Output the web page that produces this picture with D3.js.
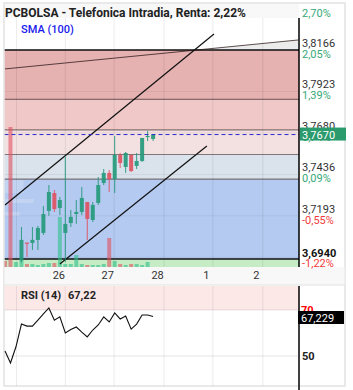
<!DOCTYPE html>
<html>
<head>
<meta charset="utf-8">
<script src="https://cdn.jsdelivr.net/npm/d3@7"></script>
<style>
  body { margin: 0; background: #fff; }
  svg { font-family: Roboto, "Noto Sans", sans-serif; display: block; }
</style>
</head>
<body>
<div id="chart"></div>
<script>
// candles, by bar index (first 3 bars fall below the visible range)
var openP  = [null, null, null, 3.6930, 3.7036, 3.7034, 3.7052, 3.7093, 3.7222, 3.7327, 3.7239, 3.7093, 3.7151, 3.7204,
              3.7216, 3.7274, 3.7169, 3.7269, 3.7386, 3.7445, 3.7409, 3.7550, 3.7480, 3.7550, 3.7486, 3.7515, 3.7656, 3.7644];
var highP  = [null, null, null, 3.7128, 3.7036, 3.7128, 3.7134, 3.7251, 3.7374, 3.7345, 3.7304, 3.7538, 3.7228, 3.7286,
              3.7362, 3.7274, 3.7274, 3.7421, 3.7468, 3.7462, 3.7662, 3.7562, 3.7568, 3.7550, 3.7562, 3.7650, 3.7691, 3.7670];
var lowP   = [null, null, null, 3.6920, 3.6952, 3.6993, 3.6993, 3.7081, 3.7193, 3.7216, 3.7198, 3.6923, 3.7128, 3.7146,
              3.7198, 3.7052, 3.7157, 3.7257, 3.7374, 3.7333, 3.7327, 3.7474, 3.7445, 3.7450, 3.7468, 3.7509, 3.7632, 3.7632];
var closeP = [null, null, null, 3.7052, 3.7030, 3.7052, 3.7122, 3.7204, 3.7333, 3.7233, 3.7286, 3.7146, 3.7187, 3.7216,
              3.7298, 3.7175, 3.7257, 3.7374, 3.7445, 3.7409, 3.7550, 3.7503, 3.7562, 3.7456, 3.7515, 3.7650, 3.7662, 3.7670];
var volume = [60, 1400, 50, 60, 30, 30, 20, 30, 40, 40, 500, 30, 30, 120, 30, 20, 20, 20, 30, 290, 60, 30, 20, 30, 30, 20, 50, 0];
var volUp  = [false, false, true];   // direction of the bars without a visible candle
var rsi    = [52.2, 47, 54, 63.9, 63, 63, 65.6, 68.3, 70.9, 65.6, 67, 60, 61.5, 62.6, 60.4, 58.3, 61.3, 63.5, 67, 64.8,
              68.7, 66.1, 67.4, 61.7, 63.9, 67.8, 67.8, 67.2];

// fibonacci range and levels
var fibHigh = 3.8166, fibLow = 3.6940;
var fibLevels = [0, 0.236, 0.382, 0.5, 0.618, 1];
var fibColors = ["#e5b1b1", "#f0c8c8", "#f3e0e0", "#dae2ec", "#b4caf0"];

// axis ticks
var priceTicks  = [3.8409, 3.8166, 3.7923, 3.7680, 3.7436, 3.7193, 3.6950];
var priceLabels = ["", "3,8166", "3,7923", "3,7680", "3,7436", "3,7193", ""];
var pctLabels   = ["2,70%", "2,05%", "1,39%", "0,74%", "0,09%", "-0,55%", "-1,22%"];
var gridIdx   = [2.1, 11, 19.9, 29, 37.9, 47];
var dayLabels = ["", "26", "27", "28", "1", "2"];

// volume by price (left side)
var vpLow  = [3.7327, 3.7269, 3.7193];
var vpHigh = [3.7403, 3.7292, 3.7216];
var vpVol  = [19, 29, 15];

// drawn lines [index, price, index, price]
var topLine  = [0, 3.8055, 53.5, 3.8225];
var chanUp   = [0, 3.7257, 38.1, 3.8260];
var chanLow  = [10, 3.6911, 36.8, 3.7603];
var lastPrice = 3.7670, rsiLast = "67,229", rsiTitle = "67,22";

var W = 353, H = 390;
var svg = d3.select("#chart").append("svg").attr("width", W).attr("height", H);

var pLeft = 4.5, pRight = 299, pTop = 18, pBottom = 267;
var x = d3.scaleLinear().domain([0, 53.6]).range([pLeft + 0.5, pRight]);
var y = d3.scaleLinear().domain([fibLow, fibHigh]).range([259, 50]);
var yv = d3.scaleLinear().domain([0, 1400]).range([pBottom, 127]);

var up = "#22997a", down = "#e0505f";

// outer frame
svg.append("rect").attr("x", 4).attr("y", 3).attr("width", 341).attr("height", 383)
  .attr("fill", "#fff").attr("stroke", "#e2e2e2").attr("stroke-width", 1.5);
// x axis strip
svg.append("rect").attr("x", 4.5).attr("y", pBottom).attr("width", 340).attr("height", 18).attr("fill", "#f8f8f8");

svg.append("defs").append("clipPath").attr("id", "clip")
  .append("rect").attr("x", pLeft).attr("y", pTop).attr("width", pRight - pLeft).attr("height", pBottom - pTop);

var plot = svg.append("g").attr("clip-path", "url(#clip)");

// grey wedge above the range under the thin line
var xCross = x(topLine[0]) + (y(fibHigh) - y(topLine[1])) / (y(topLine[3]) - y(topLine[1])) * (x(topLine[2]) - x(topLine[0]));
plot.append("path")
  .attr("d", "M" + xCross + "," + y(fibHigh) + "L" + x(topLine[2]) + "," + y(topLine[3]) + "L" + x(topLine[2]) + "," + y(fibHigh) + "Z")
  .attr("fill", "#ececec");

// fib bands
var fibPrices = fibLevels.map(function(l) { return fibHigh - l * (fibHigh - fibLow); });
plot.selectAll(".band").data(fibColors).join("rect")
  .attr("x", pLeft).attr("width", pRight - pLeft)
  .attr("y", function(d, i) { return y(fibPrices[i]); })
  .attr("height", function(d, i) { return y(fibPrices[i + 1]) - y(fibPrices[i]); })
  .attr("fill", function(d) { return d; });
plot.append("rect").attr("x", pLeft).attr("width", pRight - pLeft)
  .attr("y", y(fibLow)).attr("height", pBottom - y(fibLow)).attr("fill", "#c6ecc6");

// grid
plot.selectAll(".vg").data(gridIdx).join("line")
  .attr("x1", function(d) { return x(d); }).attr("x2", function(d) { return x(d); })
  .attr("y1", pTop).attr("y2", pBottom).attr("stroke", "rgba(0,0,0,0.08)");
plot.selectAll(".hg").data(priceTicks).join("line")
  .attr("x1", pLeft).attr("x2", pRight)
  .attr("y1", function(d) { return y(d); }).attr("y2", function(d) { return y(d); })
  .attr("stroke", "rgba(0,0,0,0.06)");

// fib lines
plot.selectAll(".fl").data(fibPrices).join("line")
  .attr("x1", pLeft).attr("x2", pRight)
  .attr("y1", function(d) { return y(d); }).attr("y2", function(d) { return y(d); })
  .attr("stroke", function(d, i) { return i == 0 || i == fibPrices.length - 1 ? "#111" : "rgba(60,40,40,0.6)"; })
  .attr("stroke-width", function(d, i) { return i == 0 || i == fibPrices.length - 1 ? 1.6 : 1.2; });

// volume by price
plot.selectAll(".vp").data(vpVol).join("rect")
  .attr("x", pLeft).attr("width", function(d) { return d; })
  .attr("y", function(d, i) { return y(vpHigh[i]); })
  .attr("height", function(d, i) { return y(vpLow[i]) - y(vpHigh[i]); })
  .attr("fill", "#fff").attr("opacity", 0.2);

// volume bars
function isUp(i) { return openP[i] == null ? volUp[i] : closeP[i] >= openP[i]; }
plot.selectAll(".vol").data(volume).join("rect")
  .attr("x", function(d, i) { return x(i) - 2; }).attr("width", 4)
  .attr("y", function(d) { return yv(d); })
  .attr("height", function(d) { return pBottom - yv(d); })
  .attr("fill", function(d, i) { return isUp(i) ? "#2fbf8a" : "#e0505f"; })
  .attr("opacity", 0.6);

// drawn lines
[topLine, chanUp, chanLow].forEach(function(l, k) {
  plot.append("line")
    .attr("x1", x(l[0])).attr("y1", y(l[1])).attr("x2", x(l[2])).attr("y2", y(l[3]))
    .attr("stroke", k == 0 ? "rgba(40,20,20,0.75)" : "#111").attr("stroke-width", k == 0 ? 1 : 1.2);
});

// candles
var idx = d3.range(openP.length).filter(function(i) { return openP[i] != null; });
var candle = plot.selectAll(".c").data(idx).join("g")
  .attr("fill", function(i) { return isUp(i) ? up : down; })
  .attr("stroke", function(i) { return isUp(i) ? up : down; })
  .attr("opacity", 0.9);
candle.append("line")
  .attr("x1", function(i) { return x(i); }).attr("x2", function(i) { return x(i); })
  .attr("y1", function(i) { return y(highP[i]); }).attr("y2", function(i) { return y(lowP[i]); });
candle.append("rect")
  .attr("stroke", "none")
  .attr("x", function(i) { return x(i) - 2; }).attr("width", 4)
  .attr("y", function(i) { return y(Math.max(openP[i], closeP[i])); })
  .attr("height", function(i) { return Math.max(1.2, Math.abs(y(openP[i]) - y(closeP[i]))); });

// last price dashed line
plot.append("line").attr("x1", pLeft).attr("x2", pRight)
  .attr("y1", y(lastPrice)).attr("y2", y(lastPrice))
  .attr("stroke", "#2a2ad0").attr("stroke-dasharray", "4,3");

// right axis
svg.append("line").attr("x1", pRight).attr("x2", pRight).attr("y1", pTop).attr("y2", pBottom)
  .attr("stroke", "#000").attr("stroke-width", 1.5);

var lab = svg.append("g").attr("font-size", 11);
lab.selectAll(".pl").data(priceTicks).join("text")
  .attr("x", 302).attr("y", function(d) { return y(d) - 3; })
  .attr("fill", "#333").text(function(d, i) { return priceLabels[i]; });
lab.selectAll(".pc").data(priceTicks).join("text")
  .attr("x", 302).attr("y", function(d, i) { return i == priceTicks.length - 1 ? pBottom : y(d) + 8; })
  .attr("fill", function(d, i) { return pctLabels[i].charAt(0) == "-" ? "#f23c3c" : "#36a877"; })
  .text(function(d, i) { return pctLabels[i]; });
lab.append("text").attr("x", 302).attr("y", y(fibLow) - 2)
  .attr("font-weight", "bold").attr("fill", "#111").text("3,6940");

// current price box
svg.append("rect").attr("x", 300).attr("y", y(lastPrice) - 7).attr("width", 46).attr("height", 13)
  .attr("fill", "#2b9a6c");
svg.append("text").attr("x", 302).attr("y", y(lastPrice) + 4).attr("font-size", 11)
  .attr("fill", "#fff").text(d3.format(".4f")(lastPrice).replace(".", ","));

// title bar
svg.append("rect").attr("x", 5).attr("y", 4).attr("width", 294).attr("height", pTop - 4).attr("fill", "#f8f8f8");
svg.append("text").attr("x", 5).attr("y", 16.5).attr("font-size", 12).attr("font-weight", "bold")
  .attr("fill", "#222").text("PCBOLSA - Telefonica Intradia, Renta: 2,22%");
svg.append("text").attr("x", 21).attr("y", 33).attr("font-size", 11).attr("font-weight", 500)
  .attr("fill", "#1a1aee").text("SMA (100)");

// x axis
var xAxis = svg.append("g").attr("transform", "translate(0," + pBottom + ")")
  .call(d3.axisBottom(x).tickValues(gridIdx).tickSize(0).tickFormat(function(d, i) { return dayLabels[i]; }));
xAxis.select(".domain").remove();
xAxis.selectAll("text").attr("dx", -7).attr("dy", 9).attr("font-size", 11)
  .attr("font-family", "Roboto, sans-serif").attr("fill", "#333");

// RSI panel
var rTop = 286, rBottom = 386;
var yr = d3.scaleLinear().domain([50, 70]).range([356, 310]);
svg.append("line").attr("x1", pLeft).attr("x2", 345).attr("y1", rTop - 1).attr("y2", rTop - 1).attr("stroke", "#e2e2e2");
svg.append("rect").attr("x", pLeft).attr("y", rTop).attr("width", pRight - pLeft).attr("height", yr(70) - rTop)
  .attr("fill", "#fde8e8");
svg.selectAll(".rvg").data(gridIdx).join("line")
  .attr("x1", function(d) { return x(d); }).attr("x2", function(d) { return x(d); })
  .attr("y1", rTop).attr("y2", rBottom).attr("stroke", "rgba(0,0,0,0.08)");
svg.selectAll(".rhg").data([70, 50]).join("line")
  .attr("x1", pLeft).attr("x2", pRight)
  .attr("y1", function(d) { return yr(d); }).attr("y2", function(d) { return yr(d); })
  .attr("stroke", "rgba(0,0,0,0.1)");
svg.append("path").datum(rsi)
  .attr("d", d3.line().x(function(d, i) { return x(i); }).y(function(d) { return yr(d); }))
  .attr("fill", "none").attr("stroke", "#111").attr("stroke-width", 1.1);
svg.append("line").attr("x1", pRight).attr("x2", pRight).attr("y1", rTop).attr("y2", H)
  .attr("stroke", "#000").attr("stroke-width", 1.5);
svg.append("text").attr("x", 21).attr("y", 299).attr("font-size", 11).attr("font-weight", "bold")
  .attr("fill", "#222").text("RSI (14)");
svg.append("text").attr("x", 68).attr("y", 299).attr("font-size", 11).attr("font-weight", "bold")
  .attr("fill", "#222").text(rsiTitle);
svg.append("text").attr("x", 301).attr("y", yr(70) + 4).attr("font-size", 11).attr("font-weight", "bold")
  .attr("fill", "#f00").text("70");
svg.append("text").attr("x", 302).attr("y", yr(50) + 4).attr("font-size", 11).attr("font-weight", "bold")
  .attr("fill", "#222").text("50");
svg.append("rect").attr("x", 298).attr("y", 311).attr("width", 46).attr("height", 13).attr("fill", "#000");
svg.append("text").attr("x", 301).attr("y", 321.5).attr("font-size", 11).attr("fill", "#fff").text(rsiLast);
</script>
</body>
</html>
